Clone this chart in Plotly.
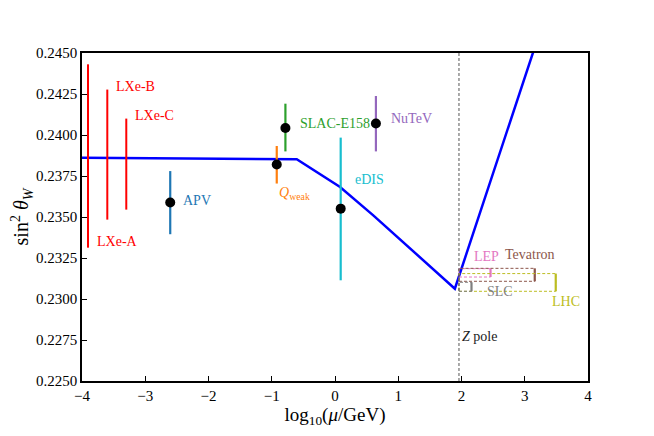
import plotly.graph_objects as go

# running of the weak mixing angle (MSbar)
run_x = [-4.0, -0.605, 0.08, 0.605, 1.895, 4.0]
run_y = [0.23862, 0.23852, 0.23683, 0.23510, 0.23063, 0.25515]

# low-energy measurements: name, log10(mu), central value, lower, upper
names = ["APV", "Qweak", "SLAC-E158", "eDIS", "NuTeV"]
meas_x = [-2.605, -0.921, -0.784, 0.09, 0.647]
meas_y = [0.23588, 0.2382, 0.24043, 0.23551, 0.2407]
meas_lo = [0.23395, 0.23704, 0.2390, 0.23114, 0.2390]
meas_hi = [0.2378, 0.23933, 0.24191, 0.23984, 0.24238]
meas_colors = ["#1f77b4", "#ff7f0e", "#2ca02c", "#17becf", "#9467bd"]

# projected LXe sensitivities (no central point drawn)
lxe_names = ["LXe-A", "LXe-B", "LXe-C"]
lxe_x = [-3.905, -3.6, -3.3]
lxe_lo = [0.23313, 0.23484, 0.23545]
lxe_hi = [0.24431, 0.24277, 0.2410]

# Z-pole determinations: box from the Z pole to x_right
zpole = 1.96
z_names = ["LEP", "Tevatron", "LHC", "SLC"]
z_right = [2.459, 3.158, 3.49, 2.158]
z_lo = [0.23134, 0.23108, 0.23047, 0.23047]
z_hi = [0.23185, 0.23187, 0.23155, 0.23102]
z_colors = ["#e377c2", "#8c564b", "#bcbd22", "#7f7f7f"]

FONT = "Liberation Serif"

fig = go.Figure()

fig.add_trace(go.Scatter(x=run_x, y=run_y, mode="lines",
                         line=dict(color="#0000ff", width=2.5), hoverinfo="skip"))

for x, lo, hi in zip(lxe_x, lxe_lo, lxe_hi):
    fig.add_trace(go.Scatter(x=[x, x], y=[lo, hi], mode="lines",
                             line=dict(color="#ff0000", width=2)))

for x, y, lo, hi, c in zip(meas_x, meas_y, meas_lo, meas_hi, meas_colors):
    fig.add_trace(go.Scatter(
        x=[x], y=[y], mode="markers",
        marker=dict(color="black", size=10),
        error_y=dict(type="data", symmetric=False, array=[hi - y], arrayminus=[y - lo],
                     color=c, thickness=2.2, width=0)))

for xr, lo, hi, c in zip(z_right, z_lo, z_hi, z_colors):
    fig.add_trace(go.Scatter(x=[zpole, xr, xr, zpole, zpole], y=[lo, lo, hi, hi, lo],
                             mode="lines", line=dict(color=c, width=1, dash="3px,2px")))
    fig.add_trace(go.Scatter(x=[xr, xr], y=[lo, hi], mode="lines",
                             line=dict(color=c, width=2.2)))

fig.add_vline(x=zpole, line=dict(color="#555555", width=1, dash="3px,2px"))

# text labels: (text, x, y, colour)
labels = [
    ("LXe-A", -3.79, 0.23348, "#ff0000"),
    ("LXe-B", -3.49, 0.24297, "#ff0000"),
    ("LXe-C", -3.19, 0.2412, "#ff0000"),
    ("APV", -2.43, 0.23602, meas_colors[0]),
    ("<i>Q</i><sub>weak</sub>", -0.92, 0.23645, meas_colors[1]),
    ("SLAC-E158", -0.584, 0.2407, meas_colors[2]),
    ("eDIS", 0.284, 0.23728, meas_colors[3]),
    ("NuTeV", 0.853, 0.2410, meas_colors[4]),
    ("LEP", 2.163, 0.2326, z_colors[0]),
    ("Tevatron", 2.653, 0.23273, z_colors[1]),
    ("LHC", 3.395, 0.22986, z_colors[2]),
    ("SLC", 2.37, 0.23047, z_colors[3]),
    ("<i>Z</i> pole", 1.98, 0.22774, "#222222"),
]
for text, x, y, c in labels:
    fig.add_annotation(x=x, y=y, text=text, showarrow=False, xanchor="left",
                       yanchor="middle", font=dict(family=FONT, size=14, color=c))

fig.update_xaxes(range=[-4, 4], dtick=1, showgrid=False, zeroline=False,
                 showline=True, linecolor="black", linewidth=1.5, mirror=True,
                 ticks="inside", ticklen=5, tickcolor="black", tickfont=dict(size=15),
                 title=dict(text="log<sub>10</sub>(<i>μ</i>/GeV)", font=dict(size=19), standoff=1))
fig.update_yaxes(range=[0.225, 0.245], tick0=0.225, dtick=0.0025, tickformat=".4f",
                 showgrid=False, zeroline=False,
                 showline=True, linecolor="black", linewidth=1.5, mirror=True,
                 ticks="inside", ticklen=5, tickcolor="black", tickfont=dict(size=15),
                 title=dict(text="sin<sup>2</sup> <i>θ<sub>W</sub></i>", font=dict(size=20), standoff=3))

# the page adds an 8px body margin, so shift the plot area up/left by that much
fig.update_layout(width=654, height=436, showlegend=False,
                  plot_bgcolor="white", paper_bgcolor="white",
                  font=dict(family=FONT, size=14, color="black"),
                  margin=dict(l=74, r=74, t=45, b=63, autoexpand=False))

fig.write_html("out.html")
